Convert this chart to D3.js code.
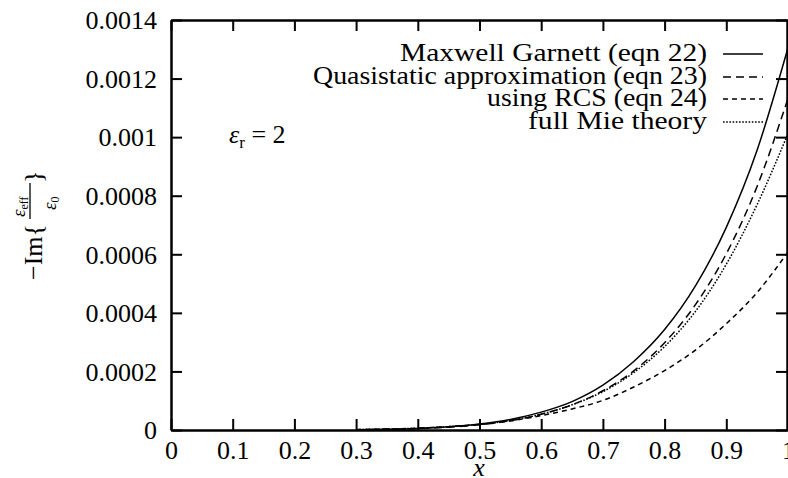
<!DOCTYPE html>
<html><head><meta charset="utf-8">
<script src="https://cdn.jsdelivr.net/npm/d3@7"></script>
<style>body{margin:0;background:#fff}svg{display:block}text{font-family:"Liberation Serif","Times New Roman",serif;fill:#000}</style>
</head><body>
<svg id="c" width="788" height="478"></svg>
<script>
const xVals = [0.3,0.35,0.4,0.45,0.5,0.55,0.6,0.65,0.7,0.75,0.8,0.85,0.9,0.95,1.0];
const maxwellGarnett = [1.0e-6,2.4e-6,5.3e-6,10.8e-6,20.3e-6,36e-6,61e-6,97e-6,153e-6,234e-6,343e-6,492e-6,692e-6,956e-6,1305e-6];
const quasistatic = [0.9e-6,2.2e-6,4.8e-6,9.6e-6,18e-6,31.5e-6,54e-6,86e-6,134e-6,202e-6,298e-6,428e-6,602e-6,832e-6,1132e-6];
const rcs = [1.5e-6,3.3e-6,6.5e-6,11.5e-6,19e-6,31e-6,49e-6,72e-6,101e-6,147e-6,203e-6,273e-6,363e-6,470e-6,608e-6];
const mie = [1.2e-6,3.0e-6,6.0e-6,11.5e-6,19e-6,33e-6,54e-6,86e-6,131e-6,196e-6,285e-6,405e-6,566e-6,770e-6,1012e-6];
const seriesNames = ["Maxwell Garnett (eqn 22)","Quasistatic approximation (eqn 23)","using RCS (eqn 24)","full Mie theory"];
const xTicks = [0,0.1,0.2,0.3,0.4,0.5,0.6,0.7,0.8,0.9,1];
const xTickLabels = ["0","0.1","0.2","0.3","0.4","0.5","0.6","0.7","0.8","0.9","1"];
const yTicks = [0,0.0002,0.0004,0.0006,0.0008,0.001,0.0012,0.0014];
const yTickLabels = ["0","0.0002","0.0004","0.0006","0.0008","0.001","0.0012","0.0014"];

const svg = d3.select("#c");
const L=171, R=788, T=20, B=430;
const FS = 26;
const x = d3.scaleLinear().domain([0,1]).range([L,R]);
const y = d3.scaleLinear().domain([0,0.0014]).range([B,T]);
const dashes = [null,"8,5","5,4","1.6,1.6"];
const data = [maxwellGarnett, quasistatic, rcs, mie];

const tl = 11;
const axB = d3.axisBottom(x).tickValues(xTicks).tickFormat((d,i)=>xTickLabels[i]).tickSizeInner(-tl).tickSizeOuter(0).tickPadding(12);
const axT = d3.axisTop(x).tickValues(xTicks).tickFormat("").tickSizeInner(-tl).tickSizeOuter(0);
const axL = d3.axisLeft(y).tickValues(yTicks).tickFormat((d,i)=>yTickLabels[i]).tickSizeInner(-tl).tickSizeOuter(0).tickPadding(14);
const axR = d3.axisRight(y).tickValues(yTicks).tickFormat("").tickSizeInner(-tl).tickSizeOuter(0);
const gb = svg.append("g").attr("transform",`translate(0,${B})`).call(axB);
const gt = svg.append("g").attr("transform",`translate(0,${T})`).call(axT);
const gl = svg.append("g").attr("transform",`translate(${L},0)`).call(axL);
const gr = svg.append("g").attr("transform",`translate(${R-1},0)`).call(axR);
[gb,gt,gl,gr].forEach(a=>{
  a.selectAll("path.domain").attr("stroke","#000").attr("stroke-width",2.5);
  a.selectAll(".tick line").attr("stroke","#000").attr("stroke-width",2);
  a.selectAll(".tick text").style("font-family","Liberation Serif").style("font-size",FS+"px").attr("fill","#000");
});
gb.selectAll(".tick text").attr("dy","0.66em");
gl.selectAll(".tick text").attr("dy","0.34em");

const line = d3.line().curve(d3.curveMonotoneX).x((d,i)=>x(xVals[i])).y(d=>y(d));
data.forEach((s,k)=>{
  svg.append("path").datum(s).attr("d",line).attr("fill","none").attr("stroke","#000")
    .attr("stroke-width",1.5).attr("stroke-dasharray",dashes[k]);
});

// legend
const ly = [54,77,99,122];
const lw = [307,394,220,179];
seriesNames.forEach((n,k)=>{
  svg.append("text").attr("x",707).attr("y",ly[k]+7).attr("text-anchor","end")
    .attr("textLength",lw[k]).attr("lengthAdjust","spacingAndGlyphs")
    .style("font-size",FS+"px").text(n);
  svg.append("line").attr("x1",723).attr("x2",763).attr("y1",ly[k]).attr("y2",ly[k])
    .attr("stroke","#000").attr("stroke-width",1.5).attr("stroke-dasharray",dashes[k]);
});

// epsilon_r annotation
const ann = svg.append("text").attr("x",229).attr("y",143).style("font-size",FS+"px");
ann.append("tspan").style("font-style","italic").text("ε");
ann.append("tspan").attr("dy",5).style("font-size","17px").text("r");
ann.append("tspan").attr("dy",-5).text(" = 2");

// x label
svg.append("text").attr("x",479).attr("y",476).attr("text-anchor","middle").style("font-style","italic").style("font-size",FS+"px").text("x");

// y label (rotated)
const yl = svg.append("g").attr("transform","translate(42,280) rotate(-90)");
yl.append("text").attr("x",0).attr("y",0).style("font-size",FS+"px").text("−Im{");
yl.append("text").attr("x",63).attr("y",-17).style("font-size","19px").style("font-style","italic").text("ε")
  .append("tspan").attr("dy",3).style("font-size","12px").style("font-style","normal").text("eff");
yl.append("line").attr("x1",61).attr("x2",97).attr("y1",-12).attr("y2",-12).attr("stroke","#000").attr("stroke-width",1.3);
yl.append("text").attr("x",70).attr("y",14).style("font-size","19px").style("font-style","italic").text("ε")
  .append("tspan").attr("dy",3).style("font-size","12px").style("font-style","normal").text("0");
yl.append("text").attr("x",97).attr("y",0).style("font-size",FS+"px").text("}");
</script>
</body></html>
